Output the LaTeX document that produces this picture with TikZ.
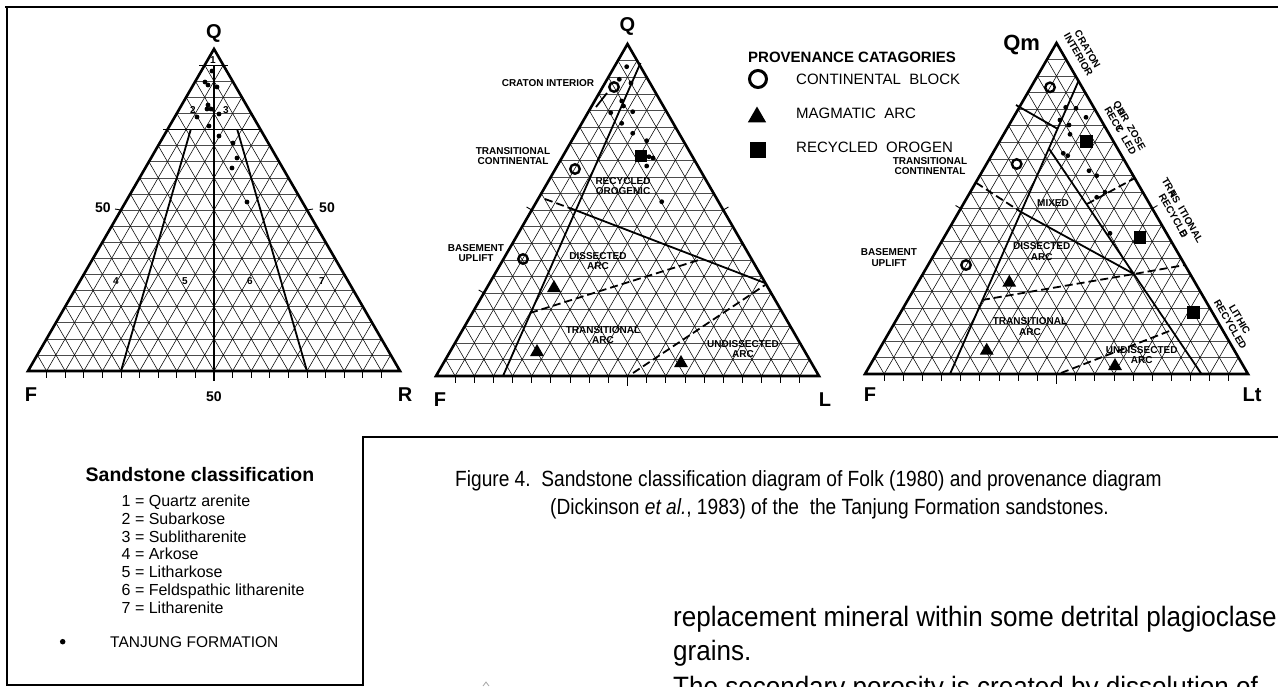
\documentclass[tikz,border=0pt]{standalone}
\usepackage{fontspec}
\setmainfont{Liberation Sans}
\newfontfamily\capfont[FakeStretch=0.87]{Liberation Sans}
\newfontfamily\bodyfont[FakeStretch=0.93]{Liberation Sans}
\usetikzlibrary{calc,shapes.geometric}

\newcommand\terngrid[3]{%
  \foreach \i in {1,...,19}{%
    \pgfmathsetmacro\tt{\i/20}%
    \pgfmathsetmacro\uu{1-\i/20}%
    \draw[hgrid] ($(#2)!\tt!(#1)$) -- ($(#3)!\tt!(#1)$);
    \draw[dgrid] ($(#2)!\tt!(#3)$) -- ($(#3)!\uu!(#1)$);
    \draw[dgrid] ($(#2)!\tt!(#3)$) -- ($(#2)!\tt!(#1)$);
    \draw[tk] ($(#2)!\tt!(#3)$) -- ++(0,7);
  }%
  \draw[tk, line width=1.4] ($(#2)!0.5!(#3)$) -- ++(0,10);
  \draw[tri] (#1) -- (#2) -- (#3) -- cycle;
}

\begin{document}
\begin{tikzpicture}[x=1pt,y=-1pt,
  tri/.style={line width=2.6, line join=miter},
  hgrid/.style={line width=0.55, black!70},
  dgrid/.style={line width=0.55, black},
  fld/.style={line width=1.8},
  fldd/.style={line width=1.8, dash pattern=on 8 off 4},
  tk/.style={line width=0.9},
  frame/.style={line width=1.8},
  dotm/.style={circle, fill=black, inner sep=0pt, minimum size=4.8},
  ringm/.style={circle, draw=black, line width=2.4, inner sep=0pt, minimum size=9.5},
  sqm/.style={rectangle, fill=black, inner sep=0pt, minimum size=12.5},
  trim/.style={regular polygon, regular polygon sides=3, fill=black, inner sep=0pt, minimum size=16},
  corner/.style={font=\bfseries\fontsize{20}{20}\selectfont, inner sep=0pt},
  numlab/.style={font=\bfseries\fontsize{14}{14}\selectfont, inner sep=0pt},
  small/.style={font=\bfseries\fontsize{10}{10}\selectfont, inner sep=0pt},
  fieldlab/.style={font=\bfseries\fontsize{10}{10.5}\selectfont, align=center, inner sep=0pt},
  leghead/.style={font=\bfseries\fontsize{15}{15}\selectfont, inner sep=0pt, anchor=west},
  legtext/.style={font=\fontsize{15}{15}\selectfont, inner sep=0pt, anchor=west},
  listtext/.style={font=\fontsize{16}{17.7}\selectfont, inner sep=0pt, anchor=north west, align=left},
  captext/.style={font=\capfont\fontsize{22}{26}\selectfont, inner sep=0pt, anchor=base west},
  bodytext/.style={font=\bodyfont\fontsize{28}{34}\selectfont, inner sep=0pt, anchor=base west}
]
\useasboundingbox (0,0) rectangle (1278,686);
\fill[white] (0,0) rectangle (1278,686);

% frames
\draw[frame] (5,7) -- (1278,7);
\draw[frame] (7,6) -- (7,686);
\draw[frame] (7,685) -- (363,685);
\draw[frame] (363,686) -- (363,437) -- (1278,437);

% ---------------- Triangle 1: Folk QFR
\coordinate (A1) at (214,49);
\coordinate (L1) at (28,371);
\coordinate (R1) at (400,371);
\terngrid{A1}{L1}{R1}
\draw[fld] (199,65.5) -- (228,65.5);
\draw[fld] (163,129.5) -- (262,129.5);
\draw[fld] (214,65.5) -- (214,381);
\draw[fld] (190.75,129.5) -- (121,371);
\draw[fld] (237.25,129.5) -- (307,371);
\draw[tk] ($(A1)!0.5!(L1)$) -- ++(-6,-1);
\draw[tk] ($(A1)!0.5!(R1)$) -- ++(6,-1);
\node[corner] (q1) at (214,33) {Q};
\node[corner] (f1) at (31,395) {F};
\node[corner] (r1) at (405,395) {R};
\node[numlab] (n50b) at (214,397) {50};
\node[numlab] (n50l) at (103,208) {50};
\node[numlab] (n50r) at (327,208) {50};
\node[small] (c1) at (213,60) {1};
\node[small] (c2) at (193,110) {2};
\node[small] (c3) at (226,110) {3};
\node[small] (c4) at (116,281) {4};
\node[small] (c5) at (185,281) {5};
\node[small] (c6) at (250,281) {6};
\node[small] (c7) at (322,281) {7};
\foreach \p [count=\k] in {(212,71),(205,82),(208,85),(217,87),(208,105),(207,109),(211,109),(197,117),(219,114),(209,126),(219,136),(233,143),(237,158),(232,168),(247,202)}
  \node[dotm] (d1-\k) at \p {};

% ---------------- Triangle 2: QFL
\coordinate (A2) at (627.5,44);
\coordinate (L2) at (436,376);
\coordinate (R2) at (819,376);
\terngrid{A2}{L2}{R2}
\draw[tk] ($(A2)!0.5!(L2)$) -- ++(-5.2,-3);
\draw[tk] ($(A2)!0.5!(R2)$) -- ++(5.2,-3);
\draw[tk] ($(L2)!0.25!(A2)$) -- ++(-5.2,-3);
\draw[fld] (640.5,63) -- (503,376);
\draw[fld] (596,107) -- (607,93);
\draw[fldd] (545,199) -- (575,210);
\draw[fld] (575,210) -- (765,283);
\draw[fldd] (530,313) -- (702,259);
\draw[fldd] (633,373) -- (765,285);
\node[corner] (q2) at (627.5,26) {Q};
\node[corner] (f2) at (440,400) {F};
\node[corner] (l2) at (825,400) {L};
\foreach \p [count=\k] in {(626.7,66.7),(619.3,79.3),(631,83),(621.7,101),(623.5,106),(610.7,112.7),(632.7,111.7),(621.7,123.3),(632.7,133.3),(646.7,140.7),(649,156.7),(646.7,166),(661.7,201.7),(653,158)}
  \node[dotm] (d2-\k) at \p {};
\node[ringm] (o2a) at (614,87) {};
\node[ringm] (o2b) at (575,169) {};
\node[ringm] (o2c) at (523,259) {};
\node[sqm] (s2a) at (641,156) {};
\node[trim] (t2a) at (554,288) {};
\node[trim] (t2b) at (537,352) {};
\node[trim] (t2c) at (681,363) {};
\node[fieldlab] (lab2a) at (548,83) {CRATON INTERIOR};
\node[fieldlab] (lab2b) at (513,156) {TRANSITIONAL\\CONTINENTAL};
\node[fieldlab] (lab2c) at (623,186) {RECYCLED\\OROGENIC};
\node[fieldlab] (lab2d) at (476,253) {BASEMENT\\UPLIFT};
\node[fieldlab] (lab2e) at (598,261) {DISSECTED\\ARC};
\node[fieldlab] (lab2f) at (603,335) {TRANSITIONAL\\ARC};
\node[fieldlab] (lab2g) at (743,349) {UNDISSECTED\\ARC};

% legend of provenance
\node[leghead] (lh) at (748,57) {PROVENANCE CATAGORIES};
\node[circle, draw=black, line width=3, minimum size=17, inner sep=0pt] (lgc) at (758,79) {};
\node[regular polygon, regular polygon sides=3, fill=black, minimum size=21, inner sep=0pt] (lgt) at (757,117) {};
\node[rectangle, fill=black, minimum size=16, inner sep=0pt] (lgs) at (758,150) {};
\node[legtext] (lt1) at (796,79) {CONTINENTAL\ \ BLOCK};
\node[legtext] (lt2) at (796,113) {MAGMATIC\ \ ARC};
\node[legtext] (lt3) at (796,147) {RECYCLED\ \ OROGEN};

% ---------------- Triangle 3: QmFLt
\coordinate (A3) at (1056.5,43);
\coordinate (L3) at (865,374);
\coordinate (R3) at (1248,374);
\terngrid{A3}{L3}{R3}
\draw[tk] ($(A3)!0.5!(L3)$) -- ++(-5.2,-3);
\draw[tk] ($(A3)!0.5!(R3)$) -- ++(5.2,-3);
\draw[fld] (1078.5,81) -- (950,374);
\draw[fld] (1016,105) -- (1057,128.5);
\draw[fld] (1048.5,148) -- (1201.5,374);
\draw[fldd] (976,182.7) -- (1020.5,211.7);
\draw[fld] (1020.5,211.7) -- (1134,274);
\draw[fldd] (982,300) -- (1134,274) -- (1185,265);
\draw[fldd] (1061,373) -- (1172,330);
\draw[fldd] (1087,204) -- (1135,178);
\node[corner, font=\bfseries\fontsize{22}{22}\selectfont] (q3) at (1021.7,45) {Qm};
\node[corner] (f3) at (870,395) {F};
\node[corner] (lt3c) at (1252,395) {Lt};
\foreach \p [count=\k] in {(1065.7,107.3),(1076,108.3),(1086,117.3),(1060,120),(1069,125),(1070,134.3),(1063.3,153.3),(1067.7,155.7),(1089,170.7),(1096.7,175.7),(1105,192.3),(1096.7,197.3),(1110,233.3)}
  \node[dotm] (d3-\k) at \p {};
\node[ringm] (o3a) at (1050,87.3) {};
\node[ringm] (o3b) at (1016.7,164) {};
\node[ringm] (o3c) at (966,265) {};
\node[sqm] (s3a) at (1086.7,141.7) {};
\node[sqm] (s3b) at (1140,237.7) {};
\node[sqm] (s3c) at (1193.3,312.3) {};
\node[trim] (t3a) at (1009.3,282.7) {};
\node[trim] (t3b) at (986.7,350.7) {};
\node[trim] (t3c) at (1115,366) {};
\node[fieldlab] (lab3a) at (930,166) {TRANSITIONAL\\CONTINENTAL};
\node[fieldlab] (lab3b) at (1053,203) {MIXED};
\node[fieldlab] (lab3c) at (889,257.5) {BASEMENT\\UPLIFT};
\node[fieldlab] (lab3d) at (1041.7,251.7) {DISSECTED\\ARC};
\node[fieldlab] (lab3e) at (1030,326.7) {TRANSITIONAL\\ARC};
\node[fieldlab] (lab3f) at (1141.7,355) {UNDISSECTED\\ARC};
\node[fieldlab, rotate=-60] (lab3g) at (1083,52) {CRATON\\INTERIOR};
\node[fieldlab, rotate=-60] (lab3h) at (1125,128) {Q\rlap{U}AR\ \ ZOSE\\REC\rlap{Y}C\ \ LED};
\node[fieldlab, rotate=-60] (lab3i) at (1178,213) {TR\rlap{A}NS\ \ ITIONAL\\RECYCL\rlap{E}D};
\node[fieldlab, rotate=-60] (lab3j) at (1235,322) {LITHIC\\RECYCLED};

% ---------------- legend box (sandstone classification)
\node[font=\bfseries\fontsize{19.5}{19.5}\selectfont, inner sep=0pt] (sct) at (200,475) {Sandstone classification};
\node[listtext] (list) at (121.5,495) {1 = Quartz arenite\\2 = Subarkose\\3 = Sublitharenite\\4 = Arkose\\5 = Litharkose\\6 = Feldspathic litharenite\\7 = Litharenite};
\node[dotm, minimum size=5.5] (ldot) at (62.7,641.7) {};
\node[legtext, font=\fontsize{15.5}{15.5}\selectfont] (tf) at (110,641.7) {TANJUNG FORMATION};

% ---------------- caption
\node[captext] (cap1) at (455,486) {Figure 4.\ \ Sandstone classification diagram of Folk (1980) and provenance diagram};
\node[captext] (cap2) at (550,514) {(Dickinson \textit{et al.}, 1983) of the\ \ the Tanjung Formation sandstones.};

% ---------------- body text (cut by the page edge)
\begin{scope}
\clip (363,437) rectangle (1278,686);
\node[bodytext] (b1) at (673,626) {replacement mineral within some detrital plagioclase};
\node[bodytext] (b2) at (673,660) {grains.};
\node[bodytext] (b3) at (673,696) {The secondary porosity is created by dissolution of};
\draw[black!35, line width=0.8] (483,686) -- (486,682) -- (489,686);
\end{scope}
\end{tikzpicture}
\end{document}
